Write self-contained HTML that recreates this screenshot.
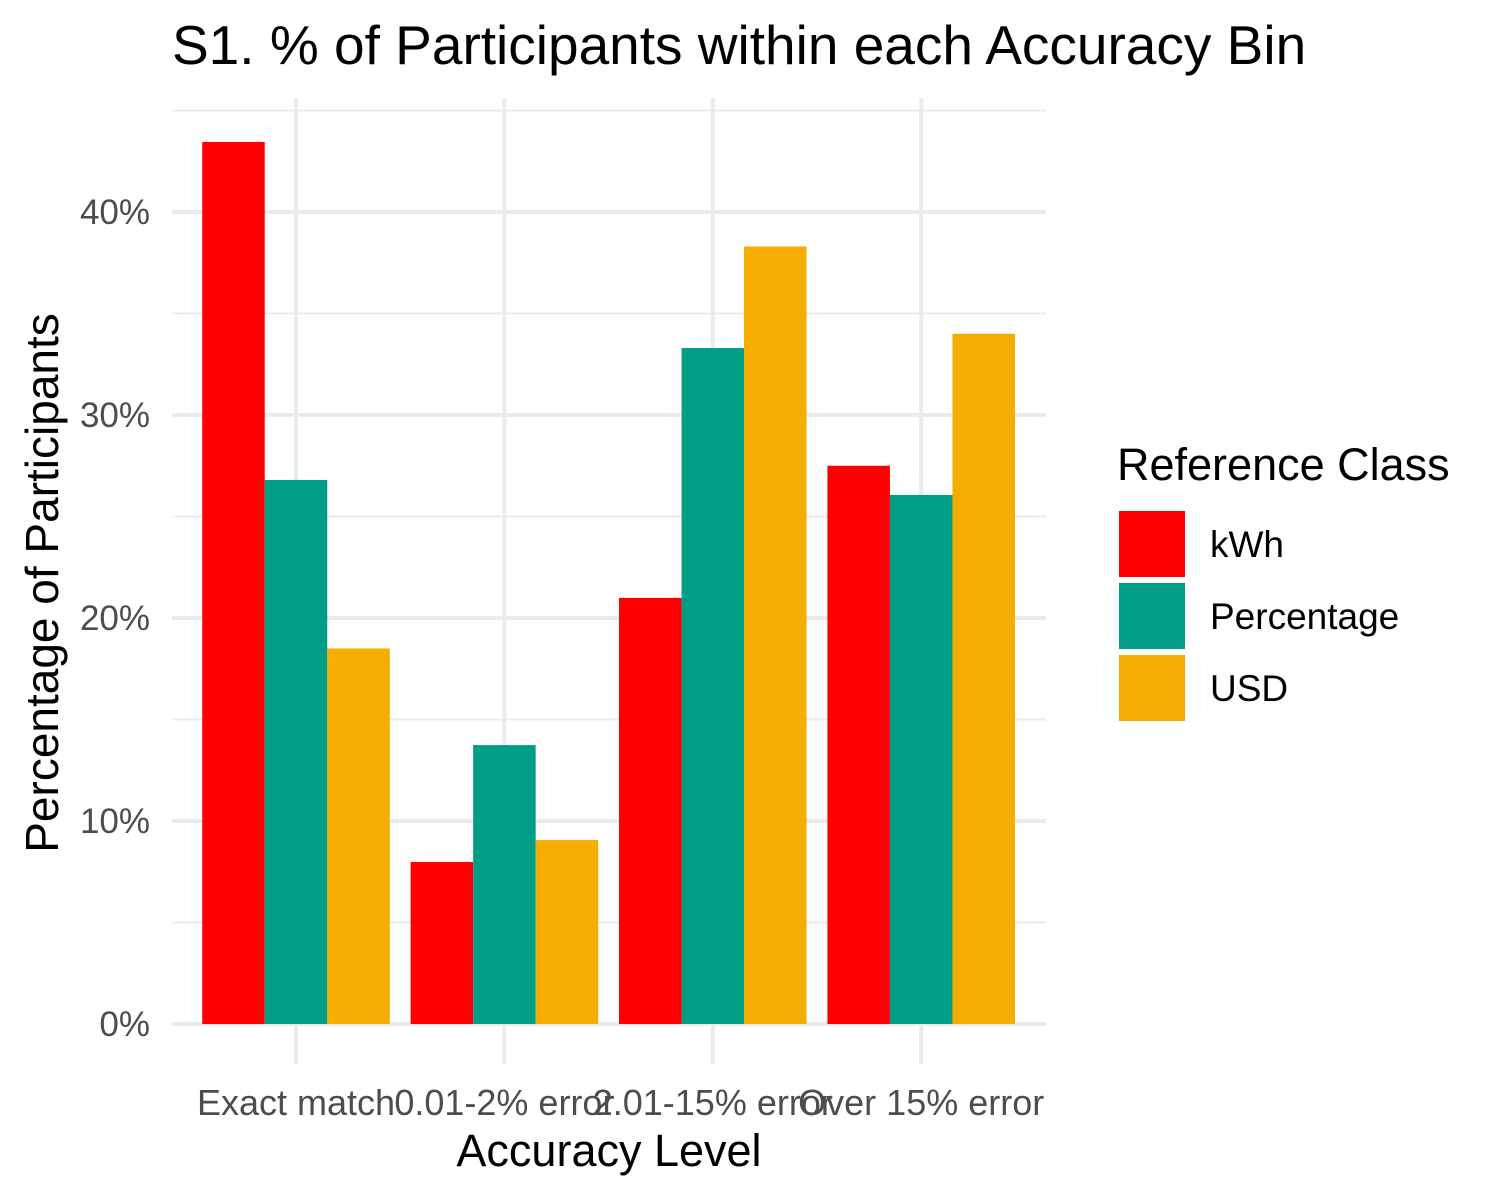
<!DOCTYPE html>
<html><head><meta charset="utf-8"><style>
html,body{margin:0;padding:0;background:#fff;}
svg{display:block;font-family:"Liberation Sans",sans-serif;}
</style></head><body>
<svg id="chart" width="1500" height="1200" viewBox="0 0 1500 1200" xmlns="http://www.w3.org/2000/svg">
<text x="172" y="64" font-size="55" fill="#000">S1. % of Participants within each Accuracy Bin</text>
<g id="grid"></g>
<g id="bars"></g>
<g id="axes"></g>
<text x="609" y="1166" font-size="45" text-anchor="middle" fill="#000">Accuracy Level</text>
<text transform="translate(58,583) rotate(-90)" font-size="46" text-anchor="middle" fill="#000">Percentage of Participants</text>
<g id="legend">
<text x="1117" y="480" font-size="45" fill="#000">Reference Class</text>
</g>
</svg>
<script>
const categories = ["Exact match","0.01-2% error","2.01-15% error","Over 15% error"];
const seriesNames = ["kWh","Percentage","USD"];
const kwhValues = [43.45, 7.98, 20.99, 27.5];
const percentageValues = [26.8, 13.74, 33.3, 26.06];
const usdValues = [18.5, 9.06, 38.3, 34.0];
const yTicks = [0,10,20,30,40];
const yTickLabels = ["0%","10%","20%","30%","40%"];
const yMinor = [5,15,25,35,45];

const colors = ["#ff0000","#009e87","#f4ad00"];
const series = [kwhValues, percentageValues, usdValues];
const NS = "http://www.w3.org/2000/svg";
const plotL = 172, plotR = 1046, plotTop = 98;
const y0 = 1024, pxPerUnit = 20.3;
const y = v => y0 - v * pxPerUnit;
const catStep = 208.4, catStart = 296;
const x = i => catStart + i * catStep;
const barW = catStep * 0.9 / 3;

function mk(tag, attrs, parent){const e=document.createElementNS(NS,tag);for(const k in attrs)e.setAttribute(k,attrs[k]);parent.appendChild(e);return e;}
const grid=document.getElementById('grid'), bars=document.getElementById('bars'), axes=document.getElementById('axes'), legend=document.getElementById('legend');

yMinor.forEach(v=>{const l=mk('line',{x1:plotL,x2:plotR,y1:y(v),y2:y(v),stroke:'#ebebeb','stroke-width':2},grid);

});
yTicks.forEach((v,i)=>{const l=mk('line',{x1:plotL,x2:plotR,y1:y(v),y2:y(v),stroke:'#ebebeb','stroke-width':4},grid);


const t=mk('text',{x:150,y:y(v)+12,'font-size':35,'text-anchor':'end',fill:'#4d4d4d'},axes);t.textContent=yTickLabels[i];

});
categories.forEach((c,i)=>{const l=mk('line',{x1:x(i),x2:x(i),y1:plotTop,y2:1064,stroke:'#ebebeb','stroke-width':4},grid);


const t=mk('text',{x:x(i),y:1115,'font-size':36,'text-anchor':'middle',fill:'#4d4d4d'},axes);t.textContent=c;


series.forEach((s,j)=>{const bx=x(i)-1.5*barW+j*barW;const r=mk('rect',{x:bx,y:y(s[i]),width:barW,height:y0-y(s[i]),fill:colors[j]},bars);

});});
seriesNames.forEach((n,j)=>{const ky=511+j*72;const r=mk('rect',{x:1119,y:ky,width:66,height:66,fill:colors[j]},legend);


const t=mk('text',{x:1210,y:ky+46,'font-size':37,fill:'#000'},legend);t.textContent=n;

});
</script>
</body></html>
